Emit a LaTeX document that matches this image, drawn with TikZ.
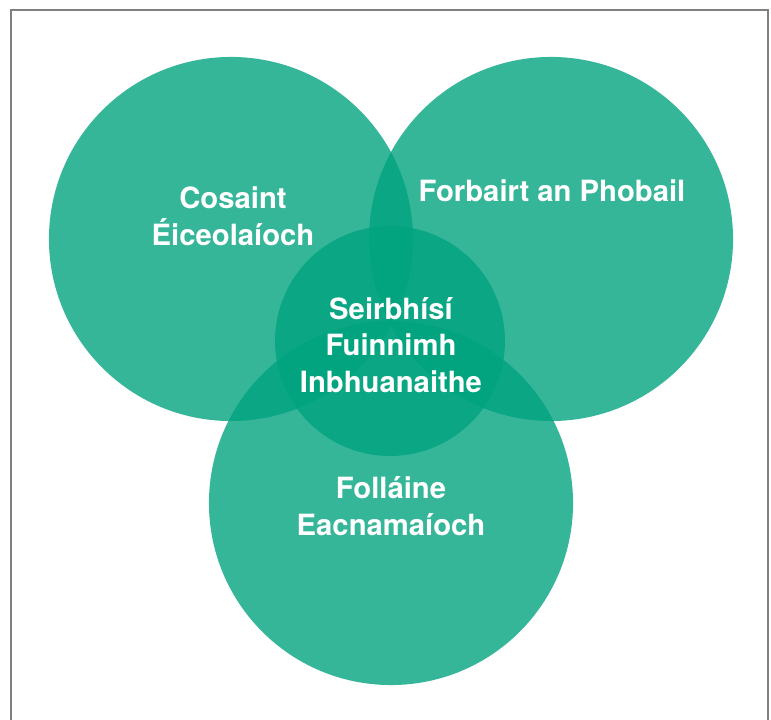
\documentclass[tikz,border=0pt]{standalone}
\usepackage{fontspec}
\setmainfont{TeX Gyre Heros}
\usepackage{xcolor}
\definecolor{vennteal}{HTML}{00A37E}
\definecolor{framegray}{HTML}{808080}

\tikzset{
    venn/.style={circle, fill=vennteal, fill opacity=0.79, draw=none, inner sep=0pt},
    bigset/.style={venn, minimum size=9.1cm},
    coreset/.style={venn, minimum size=5.75cm},
    vlabel/.style={text=white, align=center, inner sep=0pt,
        font=\bfseries\fontsize{20.8}{26}\selectfont}
}

\begin{document}
\begin{tikzpicture}[x=0.025cm, y=-0.025cm]
    \useasboundingbox (0,0) rectangle (771,720);
    % frame, open at the bottom
    \draw[framegray, line width=1.5pt] (11,725) -- (11,10) -- (768,10) -- (768,725);

    \node[bigset] (cosaint) at (231,239) {};
    \node[bigset] (forbairt) at (551,239) {};
    \node[bigset] (follaine) at (391,503) {};
    \node[coreset] (seirbhisi) at (390,341) {};

    \node[vlabel] (cosainttxt) at (233,216) {Cosaint\\Éiceolaíoch};
    \node[vlabel] (forbairttxt) at (552,191) {Forbairt an Phobail};
    \node[vlabel] (follainetxt) at (391,506) {Folláine\\Eacnamaíoch};
    \node[vlabel] (seirbhisitxt) at (391,345) {Seirbhísí\\Fuinnimh\\Inbhuanaithe};
\end{tikzpicture}
\end{document}
